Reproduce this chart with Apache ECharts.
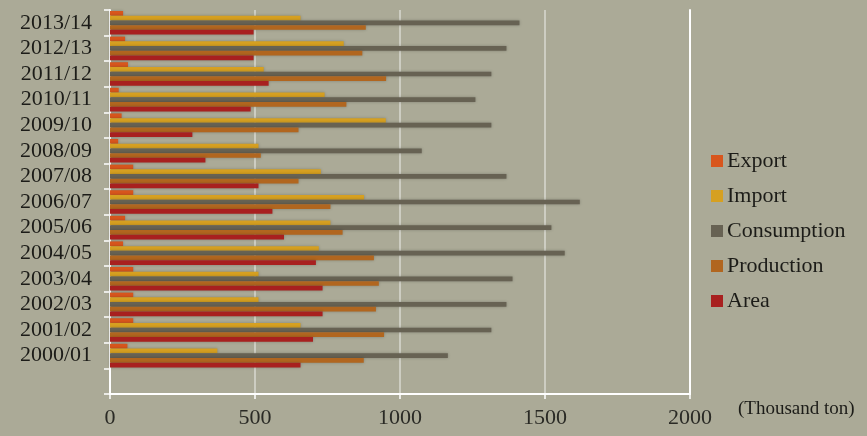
<!DOCTYPE html>
<html>
<head>
<meta charset="utf-8">
<script src="https://cdn.jsdelivr.net/npm/echarts@6/dist/echarts.min.js"></script>
<style>
html,body{margin:0;padding:0;background:#abaa97;}
#chart{width:867px;height:436px;}
</style>
</head>
<body>
<div id="chart"></div>
<script>
var categories = ['2000/01','2001/02','2002/03','2003/04','2004/05','2005/06','2006/07','2007/08','2008/09','2009/10','2010/11','2011/12','2012/13','2013/14'];
var area        = [657, 700, 733, 733, 710, 600, 560, 512, 329, 284, 485, 547, 495, 495];
var production  = [875, 945, 917, 927, 910, 802, 760, 650, 520, 650, 815, 952, 870, 882];
var consumption = [1165, 1315, 1367, 1388, 1568, 1522, 1620, 1367, 1075, 1315, 1260, 1315, 1367, 1412];
var importData  = [370, 657, 512, 512, 720, 760, 876, 727, 512, 951, 740, 530, 806, 657];
var exportData  = [60, 80, 80, 80, 45, 52, 80, 80, 28, 40, 30, 62, 52, 45];
var xTicks = [0, 500, 1000, 1500, 2000];

var font = '"Liberation Serif", "DejaVu Serif", serif';
var axisCats = [''].concat(categories);
function pad(arr){ return [null].concat(arr); }

// first series is drawn at the top of each group
var seriesDefs = [
  {name:'Export', data: exportData, color:'#d8561d'},
  {name:'Import', data: importData, color:'#d6a021'},
  {name:'Consumption', data: consumption, color:'#676253'},
  {name:'Production', data: production, color:'#b1661f'},
  {name:'Area', data: area, color:'#a8201f'}
];

var chart = echarts.init(document.getElementById('chart'));
chart.setOption({
  backgroundColor: '#abaa97',
  animation: false,
  textStyle: {fontFamily: font},
  grid: {left: 110, right: 177, top: 10, bottom: 42, containLabel: false},
  legend: {
    orient: 'vertical',
    left: 706, top: 145,
    itemWidth: 12, itemHeight: 12, itemGap: 13,
    icon: 'rect',
    data: ['Export','Import','Consumption','Production','Area'],
    textStyle: {fontFamily: font, fontSize: 22, color: '#1c1c18', padding: [0,0,0,-1]}
  },
  xAxis: {
    type: 'value', min: xTicks[0], max: xTicks[xTicks.length-1], interval: 500,
    name: '(Thousand ton)', nameLocation: 'end', nameGap: 48,
    nameTextStyle: {fontFamily: font, fontSize: 19, color: '#1c1c18', align: 'left', verticalAlign: 'top', padding: [6,0,0,0]},
    axisLine: {show: true, lineStyle: {color: '#ffffff', width: 2}},
    axisTick: {show: true, length: 5, lineStyle: {color: '#ffffff', width: 1.5}},
    axisLabel: {fontFamily: font, fontSize: 22, color: '#2a2a25', margin: 13, formatter: function(v){ return String(v); }},
    splitLine: {show: true, lineStyle: {color: 'rgba(255,255,255,0.55)', width: 1.5}}
  },
  yAxis: [{
    type: 'category', data: axisCats,
    axisLine: {show: true, lineStyle: {color: '#ffffff', width: 2}},
    axisTick: {show: true, length: 6, interval: 0, alignWithLabel: false, lineStyle: {color: '#ffffff', width: 1.5}},
    axisLabel: {fontFamily: font, fontSize: 22, color: '#1c1c18', margin: 18, interval: 0},
    splitLine: {show: false}
  }, {
    type: 'category', data: axisCats, position: 'right',
    axisLine: {show: true, lineStyle: {color: '#ffffff', width: 2}},
    axisTick: {show: false}, axisLabel: {show: false}, splitLine: {show: false}
  }],
  series: seriesDefs.map(function(s){
    return {
      name: s.name, type: 'bar', data: pad(s.data),
      barGap: '0%', barCategoryGap: '8%',
      itemStyle: {color: s.color, shadowBlur: 3, shadowColor: 'rgba(0,0,0,0.25)'}
    };
  })
});
</script>
</body>
</html>
